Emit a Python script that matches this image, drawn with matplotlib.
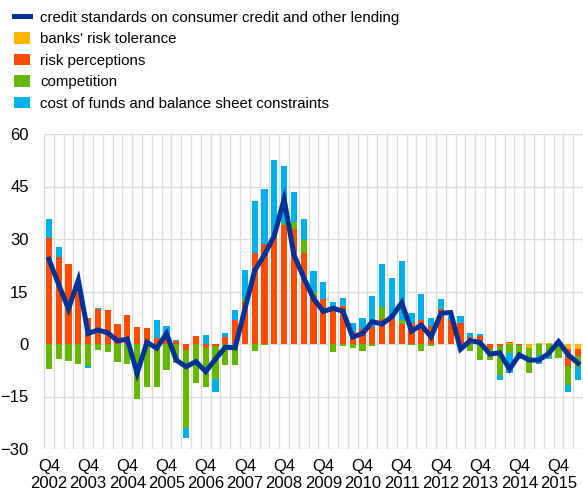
import matplotlib
matplotlib.use("Agg")
import matplotlib.pyplot as plt
from matplotlib.lines import Line2D
from matplotlib.patches import Patch
import numpy as np

plt.rcParams['font.family'] = ['Liberation Sans', 'DejaVu Sans']

# Quarters Q4 2002 .. Q2 2016
quarters = [f"Q{(3 + i) % 4 + 1} {2002 + (3 + i) // 4}" for i in range(55)]
tick_labels = [f"Q4\n{y}" for y in range(2002, 2016)]

credit_standards = [24.2, 17.0, 10.0, 18.3, 3.0, 4.0, 3.2, 0.9, 1.4, -8.4,
                    0.5, -1.2, 3.0, -4.6, -6.5, -5.0, -7.9, -4.3, -0.9, -1.1,
                    10.0, 21.0, 25.5, 31.0, 41.4, 25.5, 19.0, 13.0, 9.3, 10.2,
                    9.4, 2.0, 3.0, 6.4, 5.7, 7.8, 11.8, 3.7, 5.4, 2.0,
                    8.8, 9.0, -1.5, 1.0, 0.4, -2.9, -2.5, -7.2, -3.1, -4.6,
                    -4.6, -2.7, 0.7, -3.1, -5.5]

risk_tolerance = [0, 0, 0, 0, 0, 0, 0, 0, 0, 0,
                  0, 0, 0, 0, 0, 0, 0, 0, 0, 0,
                  0, 0, 0, 0, 0, 0, 0, 0, 0, 0,
                  0, 0, 0, 0, 0, 0, 0, 0, 0, 0,
                  0, 0, 0, 0, 0, 0, 0, 0.2, 0, -1.2,
                  0.3, 0.4, 0.3, -1.4, -1.4]

risk_perceptions = [30.4, 25.0, 23.0, 17.5, 7.4, 9.9, 9.7, 5.6, 8.2, 4.9,
                    4.6, 1.8, 2.0, 0.9, -1.7, 2.3, -1.0, -0.6, 2.1, 7.0,
                    12.1, 25.9, 28.7, 30.5, 34.0, 32.9, 25.9, 14.0, 12.8, 11.0,
                    10.9, 3.5, 4.2, 4.8, 7.1, 7.1, 5.7, 5.9, 6.9, 5.1,
                    9.9, 6.8, 6.1, 2.1, 2.4, -1.5, -0.5, 0.4, -0.4, 0,
                    0, 0, 0, -4.9, -2.0]

competition = [-7.0, -4.2, -4.8, -5.8, -6.2, -1.6, -2.4, -5.2, -5.8, -15.8,
               -12.2, -12.2, -7.4, -5.5, -22.4, -11.2, -11.4, -9.3, -6.0, -6.1,
               0.8, -1.9, -0.4, 0.4, 0.5, 1.9, 3.7, 1.0, 0, -2.4,
               -0.7, -1.0, -1.9, -0.5, 3.6, 0, 1.2, -0.3, -2.0, -0.5,
               0, 0, 0, -1.9, -4.6, -3.0, -8.3, -2.7, -3.6, -7.2,
               -3.2, -3.8, -4.0, -5.4, -3.1]

cost_of_funds = [5.3, 2.6, 0, 0, -0.7, 0.4, 0, 0, 0, 0,
                 0, 5.2, 3.2, 0.3, -2.7, 0, 2.5, -3.9, 1.1, 2.7,
                 8.2, 15.1, 15.7, 21.7, 16.4, 8.6, 6.1, 5.9, 4.8, 1.0,
                 2.3, 2.4, 3.2, 8.9, 12.3, 11.9, 16.8, 3.1, 7.3, 2.3,
                 3.1, 1.2, 1.9, 1.1, 0.5, 0, -1.6, -5.5, -0.4, 0,
                 -2.5, -0.6, 0, -1.9, -3.7]

series = [
    ("banks' risk tolerance", risk_tolerance, '#FFB400'),
    ("risk perceptions", risk_perceptions, '#FF4B00'),
    ("competition", competition, '#65B800'),
    ("cost of funds and balance sheet constraints", cost_of_funds, '#00B1EA'),
]
line_label = "credit standards on consumer credit and other lending"
line_color = '#003299'

fig = plt.figure(figsize=(5.83, 4.93), dpi=100)
ax = fig.add_axes([44 / 583, 44 / 493, 539 / 583, 315 / 493])

x = np.arange(len(quarters))
pos_base = np.zeros(len(x))
neg_base = np.zeros(len(x))
for name, vals, col in series:
    v = np.array(vals, dtype=float)
    p = np.where(v > 0, v, 0)
    n = np.where(v < 0, v, 0)
    ax.bar(x, p, bottom=pos_base, width=0.62, color=col, linewidth=0, zorder=2)
    ax.bar(x, n, bottom=neg_base, width=0.62, color=col, linewidth=0, zorder=2)
    pos_base += p
    neg_base += n

ax.plot(x, credit_standards, color=line_color, linewidth=3.6, zorder=4,
        solid_joinstyle='miter')

ax.set_xlim(-0.5, len(x) - 0.5)
ax.set_ylim(-30, 60)
ax.set_yticks([-30, -15, 0, 15, 30, 45, 60])
ax.set_xticks(np.arange(0, 53, 4))
ax.set_xticklabels(tick_labels, linespacing=1.15)
ax.set_xticks(np.arange(-0.5, len(x) + 0.5, 1), minor=True)
ax.tick_params(axis='both', which='both', length=0, labelsize=12, colors='black')
ax.tick_params(axis='y', pad=11)
ax.tick_params(axis='x', pad=7)
ax.grid(axis='x', which='minor', color='#dcdcdc', linewidth=1.0, zorder=0)
ax.grid(axis='x', which='major', visible=False)
ax.grid(axis='y', which='major', color='#dcdcdc', linewidth=1.0, zorder=0)
ax.set_axisbelow(True)
for s in ax.spines.values():
    s.set_visible(False)

handles = [Line2D([0], [0], color=line_color, linewidth=3.6)]
labels = [line_label]
for name, vals, col in series:
    handles.append(Patch(facecolor=col, edgecolor='none'))
    labels.append(name)
fig.legend(handles, labels, loc='upper left', bbox_to_anchor=(0.024, 0.978),
           frameon=False, fontsize=10.8, handlelength=1.05, handleheight=0.8,
           handletextpad=0.7, labelspacing=0.5, borderpad=0, borderaxespad=0)

fig.savefig('out.png', dpi=100)
